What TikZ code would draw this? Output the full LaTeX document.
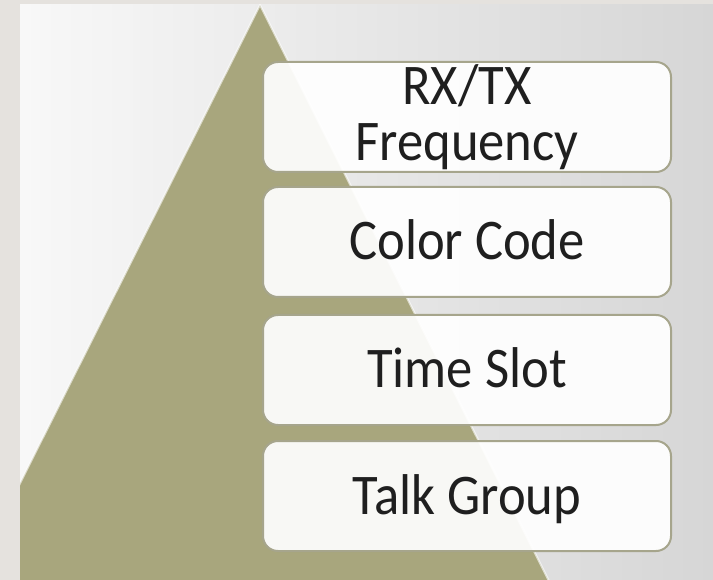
\documentclass[tikz,border=0pt]{standalone}
\usepackage{fontspec}
\setmainfont{Carlito}
\definecolor{marginc}{HTML}{E5E2DE}
\definecolor{olivec}{HTML}{A8A67D}
\definecolor{borderc}{HTML}{A6A58C}
\definecolor{textc}{HTML}{1F1F1F}
\definecolor{bgleft}{HTML}{F8F8F8}
\definecolor{bgright}{HTML}{D6D6D6}
\tikzset{
  box/.style={draw=borderc, line width=2pt, fill=white, fill opacity=0.93, text opacity=1,
    rounded corners=15pt, minimum width=408pt, minimum height=110pt, inner sep=0pt,
    text=textc, font=\fontsize{57.5}{56}\selectfont},
  oneline/.style={text height=48pt, text depth=12pt},
}
\newcommand{\hsq}[1]{\scalebox{0.915}[1]{#1}}
\begin{document}
\begin{tikzpicture}[x=1pt,y=-1pt]
\useasboundingbox (0,0) rectangle (713,580);
\fill[marginc] (0,0) rectangle (713,580);
\shade[left color=bgleft, right color=bgright] (20,5) rectangle (713,580);
\begin{scope}
  \clip (20,5) rectangle (713,580);
  \fill[olivec] (260,5) -- (-32,587) -- (552,587) -- cycle;
  \draw[white, opacity=0.6, line width=2pt] (-32,587) -- (260,5) -- (552,587);
\end{scope}
\node[box] (freq) at (467,117) {\raisebox{-9.7pt}[0pt][0pt]{\hsq{\begin{tabular}{@{}c@{}}RX/TX\\Frequency\end{tabular}}}};
\node[box, oneline] (color) at (467,242) {\hsq{Color Code}};
\node[box, oneline] (slot) at (467,370) {\hsq{Time Slot}};
\node[box, oneline] (group) at (467,496) {\hsq{Talk Group}};
\end{tikzpicture}
\end{document}
